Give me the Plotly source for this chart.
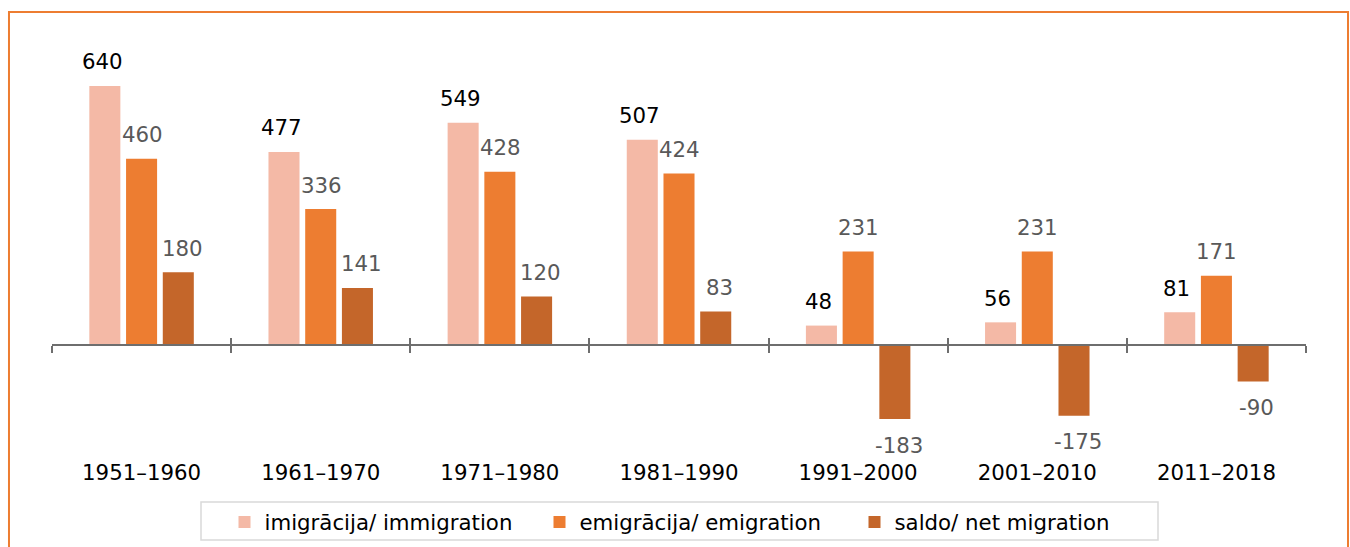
import plotly.graph_objects as go

# Migration by decade, thousands of persons
periods = ["1951–1960", "1961–1970", "1971–1980", "1981–1990",
           "1991–2000", "2001–2010", "2011–2018"]
immigration = [640, 477, 549, 507, 48, 56, 81]
emigration = [460, 336, 428, 424, 231, 231, 171]
net_migration = [180, 141, 120, 83, -183, -175, -90]

series_names = ["imigrācija/ immigration", "emigrācija/ emigration", "saldo/ net migration"]
series_values = [immigration, emigration, net_migration]
series_colors = ["#F4B9A6", "#ED7D31", "#C4662A"]
label_colors = ["#000000", "#595959", "#595959"]
label_dx = [-39.5, 0.5, 40.5]

FONT = "DejaVu Sans"
FS = 21.3

fig = go.Figure()
for name, vals, col in zip(series_names, series_values, series_colors):
    fig.add_trace(go.Bar(
        x=periods, y=vals, name=name,
        marker=dict(color=col, line=dict(width=0)),
        hoverinfo="skip",
    ))

# value labels above positive bars, below negative ones
annotations = []
for vals, lc, dx in zip(series_values, label_colors, label_dx):
    for p, v in zip(periods, vals):
        annotations.append(dict(
            x=p, y=v, xref="x", yref="y", text=str(v), showarrow=False,
            xshift=dx, yshift=24 if v >= 0 else -26,
            font=dict(family=FONT, size=FS, color=lc),
            xanchor="center", yanchor="middle",
        ))

n = len(periods)
boundaries = [i - 0.5 for i in range(n + 1)]

y_top, y_bottom = 822.8, -279.2
zero_pos = -y_bottom / (y_top - y_bottom)

fig.update_layout(
    width=1350, height=547,
    margin=dict(l=52, r=44, t=12, b=89, autoexpand=False),
    paper_bgcolor="white", plot_bgcolor="white",
    barmode="group", bargap=0.385, bargroupgap=0.155,
    font=dict(family=FONT, color="#000000"),
    xaxis=dict(
        type="category", range=[-0.5, n - 0.5],
        showline=False, ticks="", showgrid=False, zeroline=False,
        tickfont=dict(family=FONT, size=FS, color="#000000"),
    ),
    xaxis2=dict(
        overlaying="x", anchor="free", position=zero_pos,
        range=[-0.5, n - 0.5], showgrid=False, zeroline=False,
        showline=True, linecolor="#6E6E6E", linewidth=2,
        tickmode="array", tickvals=boundaries, showticklabels=False,
        ticks="outside", ticklen=7, tickwidth=2, tickcolor="#6E6E6E",
    ),
    xaxis3=dict(
        overlaying="x", anchor="free", position=zero_pos,
        range=[-0.5, n - 0.5], showgrid=False, zeroline=False,
        showline=False,
        tickmode="array", tickvals=boundaries, showticklabels=False,
        ticks="inside", ticklen=7, tickwidth=2, tickcolor="#6E6E6E",
    ),
    yaxis=dict(range=[y_bottom, y_top], visible=False, showgrid=False, zeroline=False),
    showlegend=True,
    legend=dict(
        orientation="h", x=0.5 + 18 / 1254, xanchor="center", y=-0.098, yanchor="top",
        font=dict(family=FONT, size=FS, color="#000000"),
        bgcolor="rgba(0,0,0,0)", borderwidth=0,
        itemwidth=30, entrywidth=270, entrywidthmode="pixels",
    ),
    annotations=annotations,
    shapes=[
        # outer frame
        dict(type="rect", xref="paper", yref="paper",
             x0=-0.0343, x1=1.0335, y0=-0.4, y1=1.0,
             line=dict(color="#ED7D31", width=2), fillcolor="rgba(0,0,0,0)"),
        # legend box
        dict(type="rect", xref="paper", yref="paper",
             x0=(201 - 52) / 1254, x1=(1158 - 52) / 1254,
             y0=(458 - 540) / 446, y1=(458 - 502) / 446,
             line=dict(color="#D9D9D9", width=1.5), fillcolor="rgba(0,0,0,0)"),
    ],
)

# invisible helpers so the overlay axes are rendered
fig.add_trace(go.Scatter(x=[0], y=[0], xaxis="x2", mode="markers",
                         marker=dict(opacity=0), showlegend=False, hoverinfo="skip"))
fig.add_trace(go.Scatter(x=[0], y=[0], xaxis="x3", mode="markers",
                         marker=dict(opacity=0), showlegend=False, hoverinfo="skip"))

fig.write_html("out.html")
